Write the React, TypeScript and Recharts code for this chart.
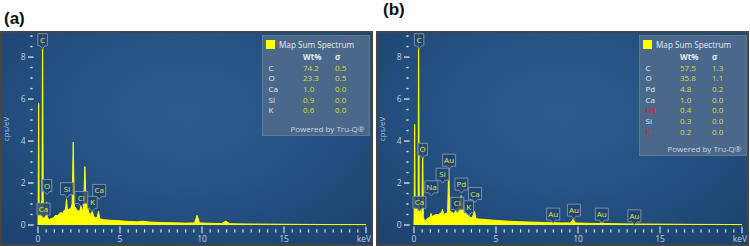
import React from 'react';
import { ComposedChart, Area, Scatter, XAxis, YAxis } from 'recharts';

// Spectrum (a): energy (keV) and intensity (cps/eV)
const energyA = [
  0, 0.01, 0.04, 0.07, 0.12, 0.18, 0.24, 0.28, 0.32, 0.36, 0.42, 0.5, 0.53, 0.57, 0.65, 0.8, 0.95, 1.05,
  1.2, 1.3, 1.4, 1.5, 1.6, 1.68, 1.74, 1.8, 1.9, 2.0, 2.08, 2.15, 2.21, 2.3, 2.4, 2.5, 2.58, 2.63, 2.7,
  2.78, 2.86, 2.92, 3.0, 3.1, 3.2, 3.31, 3.4, 3.5, 3.6, 3.69, 3.76, 4.0, 4.5, 5.0, 5.5, 6.0, 6.4, 6.8,
  7.5, 8.0, 8.6, 9.0, 9.55, 9.7, 9.85, 10.5, 11.2, 11.45, 11.7, 12.5, 14, 16, 18, 20,
];
const cpsA = [
  0, 0.9, 5.8, 0.9, 1.0, 0.9, 1.2, 9.1, 1.0, 0.7, 0.5, 0.6, 1.1, 0.4, 0.25, 0.3, 0.35, 0.45,
  0.45, 0.55, 0.6, 0.55, 0.7, 0.75, 1.25, 0.7, 0.75, 0.8, 1.0, 3.95, 0.9, 0.8, 0.7, 0.65, 0.75, 0.95, 0.6,
  0.9, 2.78, 1.2, 0.9, 0.6, 0.5, 0.65, 0.4, 0.35, 0.35, 0.65, 0.3, 0.25, 0.22, 0.2, 0.17, 0.15, 0.18, 0.14,
  0.12, 0.11, 0.1, 0.09, 0.1, 0.46, 0.1, 0.08, 0.07, 0.18, 0.06, 0.05, 0.04, 0.03, 0.02, 0.02,
];

// Spectrum (b)
const energyB = [
  0, 0.01, 0.04, 0.07, 0.12, 0.2, 0.25, 0.28, 0.32, 0.4, 0.48, 0.53, 0.57, 0.62, 0.7, 0.8, 0.9, 1.0,
  1.04, 1.1, 1.2, 1.35, 1.5, 1.6, 1.68, 1.74, 1.8, 1.95, 2.05, 2.12, 2.18, 2.3, 2.45, 2.55, 2.62, 2.7,
  2.8, 2.87, 2.93, 3.0, 3.1, 3.2, 3.31, 3.4, 3.55, 3.69, 3.78, 4.0, 4.5, 5.0, 6.0, 7.0, 8.0, 9.0, 9.55,
  9.7, 9.85, 10.5, 11.3, 11.45, 11.6, 13, 15, 17, 20,
];
const cpsB = [
  0, 0.8, 4.8, 0.8, 0.85, 0.8, 1.0, 9.1, 0.9, 0.7, 0.5, 3.9, 0.4, 0.25, 0.2, 0.3, 0.35, 0.4,
  0.55, 0.4, 0.45, 0.5, 0.5, 0.55, 0.6, 0.75, 0.5, 0.55, 0.6, 2.85, 0.7, 0.6, 0.55, 0.7, 0.8, 0.75,
  0.95, 1.4, 0.9, 1.05, 0.7, 0.5, 0.55, 0.35, 0.35, 0.65, 0.3, 0.28, 0.25, 0.22, 0.17, 0.14, 0.12, 0.1, 0.1,
  0.27, 0.1, 0.08, 0.07, 0.12, 0.07, 0.05, 0.04, 0.03, 0.02,
];

// Peak identification tags: element, line energy (keV), tag tip (cps/eV)
const tagNamesA = ['C', 'O', 'Si', 'Cl', 'K', 'Ca', 'Ca'];
const tagEnergyA = [0.28, 0.55, 1.77, 2.64, 3.32, 3.73, 0.34];
const tagTipA = [8.4, 1.45, 1.3, 0.88, 0.65, 1.22, 0.33];

const tagNamesB = ['C', 'O', 'Au', 'Si', 'Na', 'Pd', 'Ca', 'Cl', 'K', 'Ca', 'Au', 'Au', 'Au', 'Au'];
const tagEnergyB = [0.31, 0.53, 2.14, 1.74, 1.06, 2.89, 3.72, 2.64, 3.34, 0.33, 8.49, 9.75, 11.45, 13.44];
const tagTipB = [8.4, 3.18, 2.66, 1.99, 1.39, 1.52, 1.07, 0.6, 0.44, 0.65, 0.09, 0.28, 0.09, 0.01];

// Quantification tables
const elemA = ['C', 'O', 'Ca', 'Si', 'K'];
const wtA = ['74.2', '23.3', '1.0', '0.9', '0.6'];
const sigmaA = ['0.5', '0.5', '0.0', '0.0', '0.0'];

const elemB = ['C', 'O', 'Pd', 'Ca', 'Na', 'Si', 'K'];
const wtB = ['57.5', '35.8', '4.8', '1.0', '0.4', '0.3', '0.2'];
const sigmaB = ['1.3', '1.1', '0.2', '0.0', '0.0', '0.0', '0.0'];
const flaggedB = ['Na', 'K'];

const xMajor = [0, 5, 10, 15];
const yMajor = [0, 2, 4, 6, 8];
const xTicks = Array.from({ length: 41 }, (_, i) => i * 0.5);
const yTicks = Array.from({ length: 19 }, (_, i) => i * 0.5);

const FONT = '"Open Sans", "Noto Sans", sans-serif';
const CHART_W = 369;
const CHART_H = 211;

const XTick = (props: any) => {
  const { x, y, payload } = props;
  const v = payload.value;
  const major = v % 5 === 0;
  return (
    <g>
      <line x1={x} x2={x} y1={y + (major ? 1.6 : 4.3)} y2={y + (major ? 8.3 : 7.6)} stroke="#d3dbe4" strokeWidth={1.2} />
      {xMajor.includes(v) && (
        <text x={x} y={y + 17.3} textAnchor="middle" fontSize={8.5} fill="#c3cfdb" fontFamily={FONT}>{v}</text>
      )}
      {v === 20 && (
        <text x={x - 2} y={y + 17.3} textAnchor="middle" fontSize={8.5} fill="#c3cfdb" fontFamily={FONT}>keV</text>
      )}
    </g>
  );
};

const YTick = (props: any) => {
  const { x, y, payload } = props;
  const v = payload.value;
  const major = yMajor.includes(v);
  return (
    <g>
      <line x1={x - (major ? 10 : 7.7)} x2={x - (major ? 4.4 : 5.4)} y1={y} y2={y} stroke="#d3dbe4" strokeWidth={1.4} />
      {major && (
        <text x={x - 12.4} y={y + 3} textAnchor="end" fontSize={8.5} fill="#c3cfdb" fontFamily={FONT}>{v}</text>
      )}
    </g>
  );
};

const PeakTag = (props: any) => {
  const { cx, cy, payload } = props;
  if (cx == null || cy == null) return null;
  const w = payload.name.length > 1 ? 13 : 9.5;
  const h = 12;
  const top = cy - 3 - h;
  const half = w / 2;
  const d = `M${cx - half},${top} h${w} v${h} h${-(half - 2.5)} l-2.5,3 l-2.5,-3 h${-(half - 2.5)} z`;
  return (
    <g>
      <path d={d} fill="#1e4472" fillOpacity={0.85} stroke="#8596ae" strokeWidth={0.9} />
      <text x={cx} y={top + 9} textAnchor="middle" fontSize={8} fill="#e2e64a" fontFamily={FONT}>{payload.name}</text>
    </g>
  );
};

function QuantBox({ elements, wt, sigma, flagged, left }: any) {
  const height = 51 + elements.length * 10;
  const txt = { position: 'absolute', fontSize: 8, lineHeight: '10px', whiteSpace: 'nowrap' } as React.CSSProperties;
  return (
    <div
      style={{
        position: 'absolute', left, top: 2, width: 108, height,
        background: '#4a6889', border: '1px solid #5d7a9a', boxSizing: 'border-box', fontFamily: FONT, color: '#e4eaf1',
      }}
    >
      <div style={{ position: 'absolute', left: 3.5, top: 4, width: 9, height: 9, background: '#ffff00' }} />
      <span style={{ ...txt, left: 16.5, top: 3.5, fontSize: 8.2 }}>Map Sum Spectrum</span>
      <span style={{ ...txt, left: 40.5, top: 15.5, fontWeight: 700 }}>Wt%</span>
      <span style={{ ...txt, left: 72.5, top: 15.5, fontWeight: 700 }}>σ</span>
      {elements.map((el: string, i: number) => (
        <React.Fragment key={i}>
          <span style={{ ...txt, left: 6, top: 26.5 + i * 10.7, color: flagged.includes(el) ? '#e8202a' : '#e4eaf1' }}>{el}</span>
          <span style={{ ...txt, left: 40.5, top: 26.5 + i * 10.7, color: '#d6dd3c' }}>{wt[i]}</span>
          <span style={{ ...txt, left: 72.5, top: 26.5 + i * 10.7, color: '#d6dd3c' }}>{sigma[i]}</span>
        </React.Fragment>
      ))}
      <span style={{ ...txt, right: 4, top: height - 13.5, color: '#c9d5e1' }}>Powered by Tru-Q®</span>
    </div>
  );
}

function SpectrumPanel({ energy, cps, tagNames, tagEnergy, tagTip, elements, wt, sigma, flagged, left, boxLeft }: any) {
  const rows = energy.map((e: number, i: number) => ({ e, v: cps[i] }));
  const tags = tagNames.map((name: string, i: number) => ({ name, e: tagEnergy[i], v: tagTip[i] }));
  return (
    <div
      style={{
        position: 'absolute', left, top: 31, width: 373, height: 215, boxSizing: 'border-box',
        border: '2px solid #454545', overflow: 'hidden',
        background: 'radial-gradient(ellipse 75% 85% at 50% 38%, #2c5d8e 0%, #255283 45%, #1c416d 100%)',
      }}
    >
      <ComposedChart width={CHART_W} height={CHART_H} data={rows} margin={{ top: 1, right: 5, bottom: 0, left: 0 }}>
        <XAxis
          dataKey="e" type="number" domain={[0, 20]} ticks={xTicks} interval={0}
          axisLine={false} tickLine={false} tickSize={0} tickMargin={0} height={19} tick={<XTick />}
        />
        <YAxis
          type="number" domain={[0, 9.1]} ticks={yTicks} interval={0}
          axisLine={false} tickLine={false} tickSize={0} tickMargin={0} width={36} tick={<YTick />}
        />
        <Area
          type="linear" dataKey="v" stroke="#ffff00" strokeWidth={1} fill="#ffff00" fillOpacity={1}
          dot={false} activeDot={false} isAnimationActive={false}
        />
        <Scatter data={tags} dataKey="v" shape={<PeakTag />} isAnimationActive={false} />
      </ComposedChart>
      <div
        style={{
          position: 'absolute', left: 3, top: 96, fontSize: 8, color: '#a9bccf', fontFamily: FONT,
          transform: 'translate(-50%, -50%) rotate(-90deg)', whiteSpace: 'nowrap',
        }}
      >
        cps/eV
      </div>
      <QuantBox elements={elements} wt={wt} sigma={sigma} flagged={flagged} left={boxLeft} />
    </div>
  );
}

export default function App() {
  const label = { position: 'absolute', fontFamily: '"Liberation Sans", Arial, sans-serif', fontWeight: 700, fontSize: 17, lineHeight: 1, color: '#111' } as React.CSSProperties;
  return (
    <div style={{ position: 'absolute', left: 0, top: 0, width: 750, height: 246, background: '#fff', overflow: 'hidden' }}>
      <div style={{ ...label, left: 4, top: 10 }}>(a)</div>
      <div style={{ ...label, left: 383, top: 1 }}>(b)</div>
      <SpectrumPanel
        energy={energyA} cps={cpsA} tagNames={tagNamesA} tagEnergy={tagEnergyA} tagTip={tagTipA}
        elements={elemA} wt={wtA} sigma={sigmaA} flagged={[]} left={0} boxLeft={259.5}
      />
      <SpectrumPanel
        energy={energyB} cps={cpsB} tagNames={tagNamesB} tagEnergy={tagEnergyB} tagTip={tagTipB}
        elements={elemB} wt={wtB} sigma={sigmaB} flagged={flaggedB} left={376} boxLeft={260.5}
      />
    </div>
  );
}
